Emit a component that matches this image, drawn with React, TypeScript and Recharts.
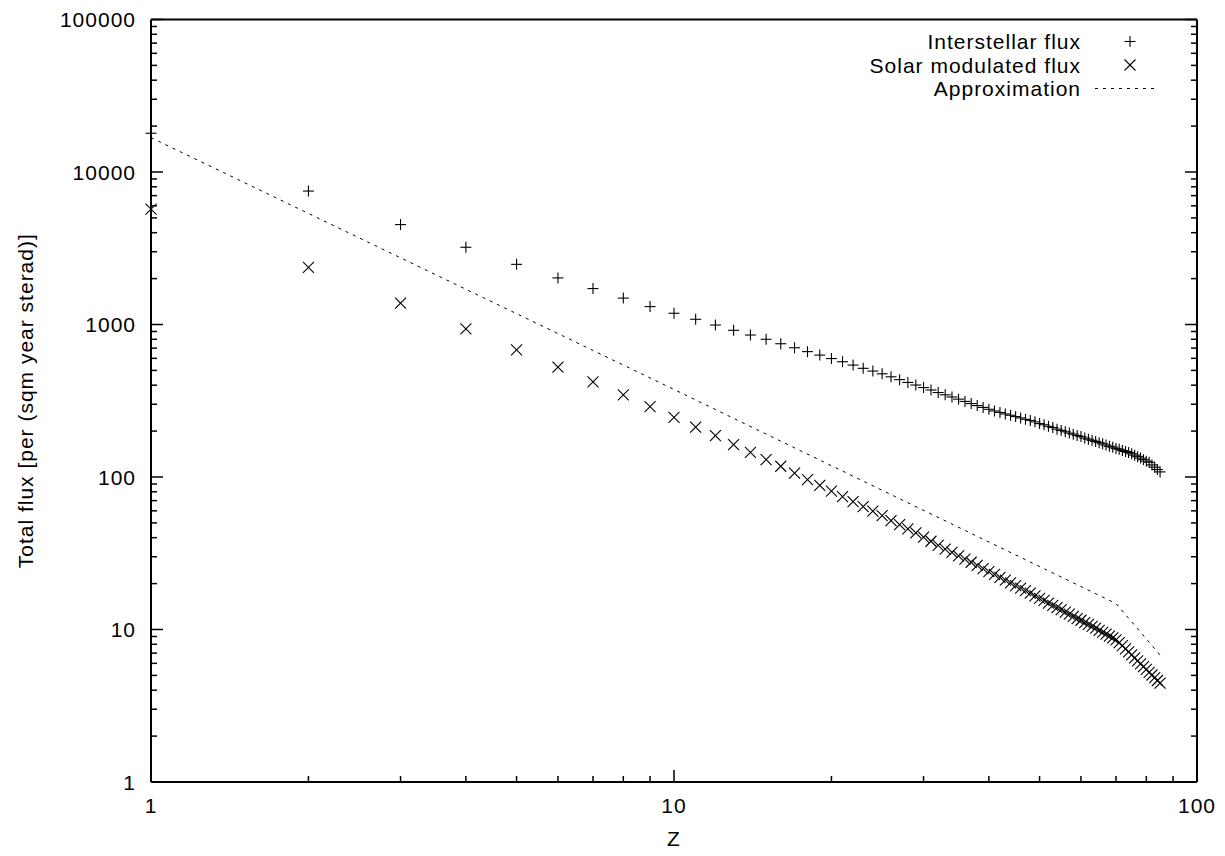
import { ComposedChart, Legend, Line, Scatter, XAxis, YAxis } from "recharts";

const zValues = [
  1, 2, 3, 4, 5, 6, 7, 8, 9, 10, 11, 12, 13, 14, 15, 16, 17, 18, 19, 20,
  21, 22, 23, 24, 25, 26, 27, 28, 29, 30, 31, 32, 33, 34, 35, 36, 37, 38, 39, 40,
  41, 42, 43, 44, 45, 46, 47, 48, 49, 50, 51, 52, 53, 54, 55, 56, 57, 58, 59, 60,
  61, 62, 63, 64, 65, 66, 67, 68, 69, 70, 71, 72, 73, 74, 75, 76, 77, 78, 79, 80,
  81, 82, 83, 84, 85,
];

const interstellarFlux = [
  17950, 7500, 4520, 3210, 2480, 2020, 1720, 1490, 1310, 1185,
  1082, 992, 916, 853, 800, 748, 704, 664, 630, 598,
  570, 542, 516, 495, 475, 454, 435, 417, 401, 386,
  372, 358, 346, 335, 324, 313, 303, 294, 286, 278,
  271, 265, 259, 254, 249, 244, 239, 235, 230, 224,
  220, 215, 211, 206, 202, 198, 194, 191, 187, 184,
  180, 177, 174, 171, 168, 165, 162, 159, 157, 154,
  152, 149, 147, 145, 142, 139, 136, 133, 130, 127,
  125, 120, 116, 112, 108,
];

const solarModulatedFlux = [
  5700, 2370, 1380, 936, 682, 525, 420, 345, 289, 246,
  212, 187, 163, 145, 130, 117.6, 106, 96, 88, 80.8,
  74.4, 69, 64, 59.7, 55.9, 51.8, 48.8, 45.7, 43, 40.3,
  37.9, 35.6, 33.7, 32.0, 30.4, 28.9, 27.6, 26.3, 25.1, 24.0,
  23.0, 22.0, 21.1, 20.2, 19.4, 18.7, 18.0, 17.3, 16.6, 16.0,
  15.5, 14.9, 14.4, 13.9, 13.5, 13.0, 12.6, 12.2, 11.8, 11.5,
  11.1, 10.8, 10.5, 10.2, 9.86, 9.58, 9.31, 9.05, 8.81, 8.56,
  8.2, 7.83, 7.47, 7.13, 6.81, 6.51, 6.23, 5.96, 5.71, 5.47,
  5.24, 5.03, 4.83, 4.63, 4.45,
];

const approxZ = [1, 10, 70, 85];
const approxFlux = [16800, 375, 14.8, 6.8];

const xMajorTicks = [1, 10, 100];
const xTicks = [1, 2, 3, 4, 5, 6, 7, 8, 9, 10, 20, 30, 40, 50, 60, 70, 80, 90, 100];
const yMajorTicks = [1, 10, 100, 1000, 10000, 100000];
const yTicks = [
  1, 2, 3, 4, 5, 6, 7, 8, 9,
  10, 20, 30, 40, 50, 60, 70, 80, 90,
  100, 200, 300, 400, 500, 600, 700, 800, 900,
  1000, 2000, 3000, 4000, 5000, 6000, 7000, 8000, 9000,
  10000, 20000, 30000, 40000, 50000, 60000, 70000, 80000, 90000,
  100000,
];

const interstellarData = zValues.map((z, i) => ({ z, flux: interstellarFlux[i] }));
const solarData = zValues.map((z, i) => ({ z, flux: solarModulatedFlux[i] }));
const approxData = approxZ.map((z, i) => ({ z, flux: approxFlux[i] }));

const FONT = '"Liberation Sans", Arial, Helvetica, sans-serif';
const textStyle = { fontFamily: FONT, fontSize: 21, letterSpacing: 1, fill: "#000" };
const MAJOR = 12;
const MINOR = 6;
const TICK_W = 1.5;

function BottomTick({ x, y, payload }: any) {
  const major = xMajorTicks.includes(payload.value);
  return (
    <g>
      <line x1={x} x2={x} y1={y} y2={y - (major ? MAJOR : MINOR)} stroke="#000" strokeWidth={TICK_W} />
      {major && (
        <text x={x} y={y + 31} textAnchor="middle" style={textStyle}>
          {payload.value}
        </text>
      )}
    </g>
  );
}

function TopTick({ x, y, payload }: any) {
  const major = xMajorTicks.includes(payload.value);
  return <line x1={x} x2={x} y1={y} y2={y + (major ? MAJOR : MINOR)} stroke="#000" strokeWidth={TICK_W} />;
}

function LeftTick({ x, y, payload }: any) {
  const major = yMajorTicks.includes(payload.value);
  return (
    <g>
      <line x1={x} x2={x + (major ? MAJOR : MINOR)} y1={y} y2={y} stroke="#000" strokeWidth={TICK_W} />
      {major && (
        <text x={x - 15} y={y + 7.5} textAnchor="end" style={textStyle}>
          {payload.value}
        </text>
      )}
    </g>
  );
}

function RightTick({ x, y, payload }: any) {
  const major = yMajorTicks.includes(payload.value);
  return <line x1={x} x2={x - (major ? MAJOR : MINOR)} y1={y} y2={y} stroke="#000" strokeWidth={TICK_W} />;
}

function PlusMark({ cx, cy }: any) {
  if (cx == null || cy == null) return null;
  const r = 5.5;
  return (
    <g stroke="#000" strokeWidth={1.1}>
      <line x1={cx - r} x2={cx + r} y1={cy} y2={cy} />
      <line x1={cx} x2={cx} y1={cy - r} y2={cy + r} />
    </g>
  );
}

function CrossMark({ cx, cy }: any) {
  if (cx == null || cy == null) return null;
  const r = 5.5;
  return (
    <g stroke="#000" strokeWidth={1.1}>
      <line x1={cx - r} x2={cx + r} y1={cy - r} y2={cy + r} />
      <line x1={cx - r} x2={cx + r} y1={cy + r} y2={cy - r} />
    </g>
  );
}

function LegendBox() {
  const rows = [
    { label: "Interstellar flux", y: 21.5, kind: "plus" },
    { label: "Solar modulated flux", y: 45, kind: "cross" },
    { label: "Approximation", y: 68.5, kind: "dash" },
  ];
  return (
    <svg width={340} height={80} style={{ display: "block" }}>
      {rows.map((r) => (
        <g key={r.label}>
          <text x={231} y={r.y + 7.5} textAnchor="end" style={textStyle}>
            {r.label}
          </text>
          {r.kind === "plus" && <PlusMark cx={280} cy={r.y} />}
          {r.kind === "cross" && <CrossMark cx={280} cy={r.y} />}
          {r.kind === "dash" && (
            <line x1={245} x2={309} y1={r.y} y2={r.y} stroke="#000" strokeWidth={1} strokeDasharray="3 5" />
          )}
        </g>
      ))}
    </svg>
  );
}

function YTitle({ viewBox }: any) {
  const vb = viewBox || { x: 0, y: 19.5, width: 151, height: 762.5 };
  const cx = vb.x + 25;
  const cy = vb.y + vb.height / 2;
  return (
    <text x={cx} y={cy} transform={`rotate(-90 ${cx} ${cy})`} textAnchor="middle" dy={7.5} style={textStyle}>
      Total flux [per (sqm year sterad)]
    </text>
  );
}

function XTitle({ viewBox }: any) {
  const vb = viewBox || { x: 151, y: 782, width: 1046, height: 74 };
  return (
    <text x={vb.x + vb.width / 2} y={vb.y + 64} textAnchor="middle" style={textStyle}>
      Z
    </text>
  );
}

export default function App() {
  const axisLine = { stroke: "#000", strokeWidth: 2 };
  return (
    <div style={{ position: "absolute", left: 0, top: 0, background: "#fff" }}>
      <ComposedChart width={1225} height={856} margin={{ top: 0, right: 0, bottom: 0, left: 0 }}>
        <XAxis
          xAxisId="bottom"
          dataKey="z"
          type="number"
          scale="log"
          domain={[1, 100]}
          ticks={xTicks}
          interval={0}
          tickSize={0}
          tickMargin={0}
          tick={BottomTick}
          axisLine={axisLine}
          height={74}
          label={XTitle}
        />
        <XAxis
          xAxisId="top"
          orientation="top"
          type="number"
          scale="log"
          domain={[1, 100]}
          allowDataOverflow
          ticks={xTicks}
          interval={0}
          tickSize={0}
          tickMargin={0}
          tick={TopTick}
          axisLine={axisLine}
          height={19.5}
        />
        <YAxis
          yAxisId="left"
          dataKey="flux"
          type="number"
          scale="log"
          domain={[1, 100000]}
          ticks={yTicks}
          interval={0}
          tickSize={0}
          tickMargin={0}
          tick={LeftTick}
          axisLine={axisLine}
          width={151}
          label={YTitle}
        />
        <YAxis
          yAxisId="right"
          orientation="right"
          type="number"
          scale="log"
          domain={[1, 100000]}
          allowDataOverflow
          ticks={yTicks}
          interval={0}
          tickSize={0}
          tickMargin={0}
          tick={RightTick}
          axisLine={axisLine}
          width={28}
        />
        <Line
          xAxisId="bottom"
          yAxisId="left"
          data={approxData}
          dataKey="flux"
          type="linear"
          stroke="#000"
          strokeWidth={1}
          strokeDasharray="3 5"
          dot={false}
          activeDot={false}
          isAnimationActive={false}
        />
        <Scatter
          xAxisId="bottom"
          yAxisId="left"
          data={interstellarData}
          dataKey="flux"
          shape={PlusMark}
          isAnimationActive={false}
        />
        <Scatter
          xAxisId="bottom"
          yAxisId="left"
          data={solarData}
          dataKey="flux"
          shape={CrossMark}
          isAnimationActive={false}
        />
        <Legend
          layout="horizontal"
          verticalAlign="middle"
          align="center"
          wrapperStyle={{ top: 20, left: 850, width: 340, height: 80 }}
          content={() => <LegendBox />}
        />
      </ComposedChart>
    </div>
  );
}
